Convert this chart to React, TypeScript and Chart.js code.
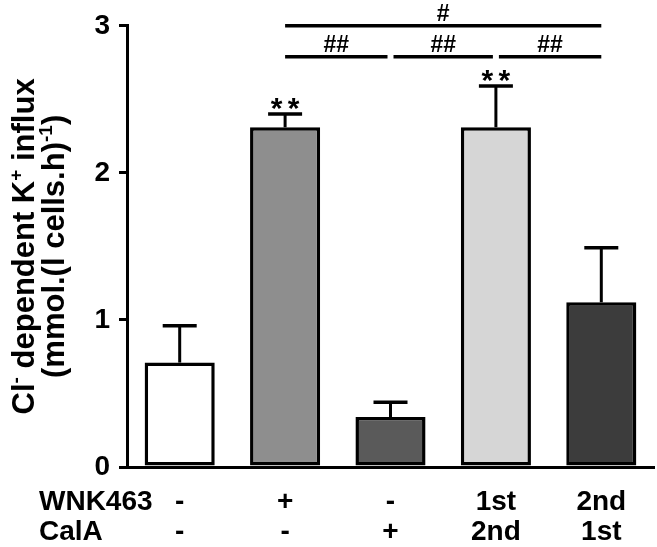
import React, { useEffect, useRef } from "react";
import { Chart, registerables } from "chart.js";

Chart.register(...registerables);

const FONT = "'Liberation Sans', Arial, Helvetica, sans-serif";

// Data
const categories = ["Control", "WNK463", "CalA", "WNK463 then CalA", "CalA then WNK463"];
const wnkLabels = ["-", "+", "-", "1st", "2nd"];
const calaLabels = ["-", "-", "+", "2nd", "1st"];
const means = [0.71, 2.31, 0.34, 2.31, 1.12];
const upperErrors = [0.96, 2.4, 0.44, 2.59, 1.49];
const starMarks = ["", "**", "", "**", ""];
const barColors = ["#ffffff", "#8e8e8e", "#5a5a5a", "#d6d6d6", "#3c3c3c"];
const yTickValues = [0, 1, 2, 3];

// significance brackets (between categories, level in y units)
const bracketFrom = [1, 1, 2, 3];
const bracketTo = [4, 2, 3, 4];
const bracketLevel = [3.0, 2.79, 2.79, 2.79];
const bracketText = ["#", "##", "##", "##"];

const rowHeaders = ["WNK463", "CalA"];
const yTitleLine1: [string, boolean][] = [["Cl", false], ["-", true], [" dependent K", false], ["+", true], [" influx", false]];
const yTitleLine2: [string, boolean][] = [["(mmol.(l cells.h)", false], ["-1", true], [")", false]];

function drawRich(ctx: CanvasRenderingContext2D, segs: [string, boolean][], cx: number, cy: number, size: number) {
  ctx.save();
  ctx.translate(cx, cy);
  ctx.rotate(-Math.PI / 2);
  ctx.textAlign = "left";
  ctx.textBaseline = "alphabetic";
  ctx.fillStyle = "#000";
  let total = 0;
  const widths = segs.map(([t, sup]) => {
    ctx.font = `bold ${sup ? Math.round(size * 0.62) : size}px ${FONT}`;
    const w = ctx.measureText(t).width;
    total += w;
    return w;
  });
  let x = -total / 2;
  segs.forEach(([t, sup], i) => {
    ctx.font = `bold ${sup ? Math.round(size * 0.62) : size}px ${FONT}`;
    ctx.fillText(t, x, sup ? -size * 0.4 : 0);
    x += widths[i];
  });
  ctx.restore();
}

const annotPlugin = {
  id: "annot",
  afterDatasetsDraw(chart: any) {
    const ctx: CanvasRenderingContext2D = chart.ctx;
    const xs = chart.scales.x;
    const ys = chart.scales.y;
    ctx.save();
    ctx.strokeStyle = "#000";
    ctx.fillStyle = "#000";
    ctx.lineCap = "butt";
    // error bars
    means.forEach((m, i) => {
      const cx = xs.getPixelForValue(i);
      const y0 = ys.getPixelForValue(m);
      const y1 = ys.getPixelForValue(upperErrors[i]);
      ctx.lineWidth = 3;
      ctx.beginPath();
      ctx.moveTo(cx, y0);
      ctx.lineTo(cx, y1);
      ctx.stroke();
      ctx.lineWidth = 3.5;
      ctx.beginPath();
      ctx.moveTo(cx - 17, y1);
      ctx.lineTo(cx + 17, y1);
      ctx.stroke();
      if (starMarks[i]) {
        ctx.font = `bold 30px ${FONT}`;
        ctx.textAlign = "center";
        ctx.textBaseline = "alphabetic";
        const n = starMarks[i].length;
        for (let k = 0; k < n; k++) {
          ctx.fillText("*", cx + (k - (n - 1) / 2) * 17, y1 + 4);
        }
      }
    });
    // brackets
    bracketFrom.forEach((f, i) => {
      const t = bracketTo[i];
      const y = ys.getPixelForValue(bracketLevel[i]);
      let x0 = xs.getPixelForValue(f);
      let x1 = xs.getPixelForValue(t);
      if (t - f === 1) {
        if (f > 1) x0 += 3;
        if (t < 4) x1 -= 3;
      }
      ctx.lineWidth = 3.5;
      ctx.beginPath();
      ctx.moveTo(x0, y);
      ctx.lineTo(x1, y);
      ctx.stroke();
      ctx.font = `bold 23px ${FONT}`;
      ctx.textAlign = "center";
      ctx.textBaseline = "alphabetic";
      ctx.fillText(bracketText[i], (x0 + x1) / 2, y - 5);
    });
    ctx.restore();
  },
  afterDraw(chart: any) {
    const ctx: CanvasRenderingContext2D = chart.ctx;
    const xs = chart.scales.x;
    const area = chart.chartArea;
    ctx.save();
    ctx.fillStyle = "#000";
    // y title
    const cy = (area.top + area.bottom) / 2;
    drawRich(ctx, yTitleLine1, 34, cy, 31);
    drawRich(ctx, yTitleLine2, 64, cy, 31);
    // bottom rows
    const rowY = [510, 540];
    ctx.font = `bold 28px ${FONT}`;
    ctx.textBaseline = "alphabetic";
    ctx.textAlign = "left";
    rowHeaders.forEach((h, r) => ctx.fillText(h, 39, rowY[r]));
    ctx.textAlign = "center";
    [wnkLabels, calaLabels].forEach((row, r) => {
      row.forEach((lab, i) => {
        ctx.fillText(lab, xs.getPixelForValue(i), rowY[r]);
      });
    });
    ctx.restore();
  },
};

export default function App() {
  const ref = useRef<HTMLCanvasElement>(null);
  useEffect(() => {
    if (!ref.current) return;
    const chart = new Chart(ref.current, {
      type: "bar",
      data: {
        labels: categories,
        datasets: [
          {
            data: means,
            backgroundColor: barColors,
            borderColor: "#000",
            borderWidth: 3.5,
            borderSkipped: false,
            barPercentage: 0.665,
            categoryPercentage: 1,
          },
        ],
      },
      options: {
        animation: false,
        responsive: false,
        devicePixelRatio: 1,
        layout: { padding: { left: 0, top: 25, right: 3, bottom: 80 } },
        plugins: { legend: { display: false }, tooltip: { enabled: false }, title: { display: false } },
        scales: {
          x: {
            grid: { display: false, drawTicks: false },
            border: { display: true, color: "#000", width: 3 },
            ticks: { display: false },
          },
          y: {
            min: 0,
            max: 3,
            afterFit: (scale: any) => {
              scale.width = 127;
            },
            afterBuildTicks: (scale: any) => {
              scale.ticks = yTickValues.map((v) => ({ value: v }));
            },
            grid: {
              display: true,
              drawOnChartArea: false,
              drawTicks: true,
              tickLength: 8,
              color: "#000",
              lineWidth: 3,
            },
            border: { display: true, color: "#000", width: 3 },
            ticks: {
              color: "#000",
              padding: 9,
              font: { family: FONT, size: 28, weight: "bold" },
            },
          },
        },
      },
      plugins: [annotPlugin],
    });
    return () => chart.destroy();
  }, []);
  return (
    <div style={{ position: "fixed", left: 0, top: 0, width: 657, height: 547, background: "#fff" }}>
      <canvas ref={ref} width={657} height={547} />
    </div>
  );
}
